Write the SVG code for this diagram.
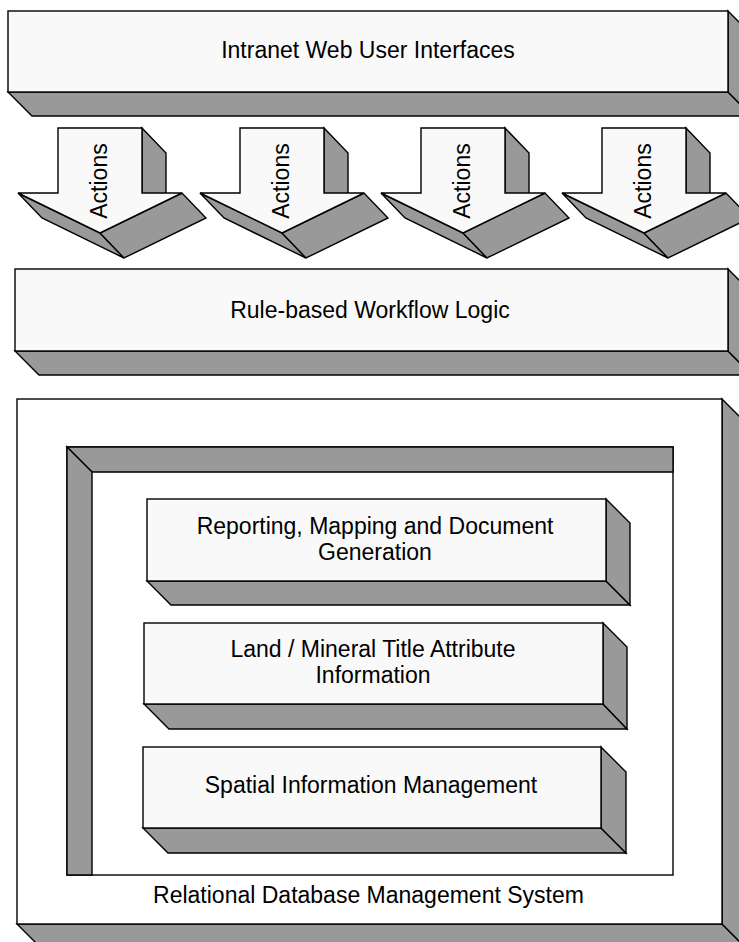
<svg xmlns="http://www.w3.org/2000/svg" width="739" height="942" viewBox="0 0 739 942">
<style>
.face{fill:#f9f9f9;stroke:#000;stroke-width:1.4;stroke-linejoin:miter}
.white{fill:#ffffff;stroke:#000;stroke-width:1.4}
.side{fill:#999999;stroke:#000;stroke-width:1.4;stroke-linejoin:miter}
.line{fill:none;stroke:#000;stroke-width:1.4}
text{font-family:"Liberation Sans",Arial,sans-serif;font-size:23px;fill:#000;text-anchor:middle}
</style>
<defs>
<g id="arrow">
<polygon class="side" points="84,0 108,25 108,90 84,65"/>
<polygon class="side" points="42,105 -40,65 -16,90 66,130"/>
<polygon class="side" points="42,105 124,65 148,90 66,130"/>
<polygon class="face" points="0,0 84,0 84,65 124,65 42,105 -40,65 0,65"/>
</g>
</defs>
<rect width="739" height="942" fill="#ffffff"/>

<g id="web-ui">
<polygon class="side" points="8,92 728,92 752,116 32,116"/>
<polygon class="side" points="728,11 752,35 752,116 728,92"/>
<rect class="face" x="8" y="11" width="720" height="81"/>
<text x="368" y="58">Intranet Web User Interfaces</text>
</g>

<g id="connectors">
<g id="action-1">
<use href="#arrow" x="58" y="128"/>
<text transform="translate(107,181) rotate(-90)">Actions</text>
</g>
<g id="action-2">
<use href="#arrow" x="240" y="128"/>
<text transform="translate(289,181) rotate(-90)">Actions</text>
</g>
<g id="action-3">
<use href="#arrow" x="421" y="128"/>
<text transform="translate(470,181) rotate(-90)">Actions</text>
</g>
<g id="action-4">
<use href="#arrow" x="602" y="128"/>
<text transform="translate(651,181) rotate(-90)">Actions</text>
</g>
</g>

<g id="workflow">
<polygon class="side" points="15,351 728,351 752,375 39,375"/>
<polygon class="side" points="728,269 752,293 752,375 728,351"/>
<rect class="face" x="15" y="269" width="713" height="82"/>
<text x="370" y="318">Rule-based Workflow Logic</text>
</g>

<g id="rdbms">
<polygon class="side" points="17,924 722,924 746,948 41,948"/>
<polygon class="side" points="722,399 746,423 746,948 722,924"/>
<rect class="white" x="17" y="399" width="705" height="525"/>
<rect class="white" x="67" y="447" width="606" height="428"/>
<polygon class="side" points="67,447 673,447 673,472 92,472"/>
<polygon class="side" points="67,447 92,472 92,875 67,875"/>
<text x="368.5" y="903">Relational Database Management System</text>
</g>

<g id="reporting">
<polygon class="side" points="147,581 606,581 630,605 171,605"/>
<polygon class="side" points="606,499 630,523 630,605 606,581"/>
<rect class="face" x="147" y="499" width="459" height="82"/>
<text x="375" y="534">Reporting, Mapping and Document</text>
<text x="375" y="560">Generation</text>
</g>

<g id="land-title">
<polygon class="side" points="144,704 603,704 627,729 169,729"/>
<polygon class="side" points="603,623 627,647 627,729 603,704"/>
<rect class="face" x="144" y="623" width="459" height="81"/>
<text x="373" y="657">Land / Mineral Title Attribute</text>
<text x="373" y="683">Information</text>
</g>

<g id="spatial">
<polygon class="side" points="143,828 601,828 626,853 168,853"/>
<polygon class="side" points="601,747 626,772 626,853 601,828"/>
<rect class="face" x="143" y="747" width="458" height="81"/>
<text x="371" y="793">Spatial Information Management</text>
</g>
</svg>
